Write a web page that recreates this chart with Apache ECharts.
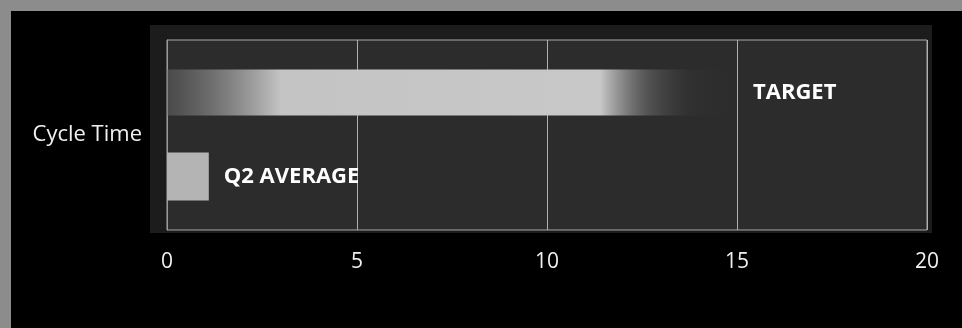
<!DOCTYPE html>
<html>
<head>
<meta charset="utf-8">
<script src="https://cdn.jsdelivr.net/npm/echarts@6/dist/echarts.min.js"></script>
<style>
html,body{margin:0;padding:0;background:#000;}
#chart{width:962px;height:328px;}
</style>
</head>
<body>
<div id="chart"></div>
<script>
var categories = ['Cycle Time'];
var seriesNames = ['TARGET', 'Q2 AVERAGE'];
var target = [15];
var q2Average = [1.1];
var xTicks = [0, 5, 10, 15, 20];

var chart = echarts.init(document.getElementById('chart'), null, {renderer: 'canvas'});
var font = '"Open Sans", "DejaVu Sans", sans-serif';
chart.setOption({
  backgroundColor: '#000',
  animation: false,
  graphic: [
    {type: 'rect', shape: {x: 0, y: 0, width: 962, height: 11}, style: {fill: '#8c8c8c'}, z: -10},
    {type: 'rect', shape: {x: 0, y: 0, width: 11, height: 328}, style: {fill: '#8c8c8c'}, z: -10},
    {type: 'rect', shape: {x: 150, y: 25, width: 782, height: 208}, style: {fill: '#1c1c1c'}, z: -10}
  ],
  grid: {left: 167, right: 35, top: 40, bottom: 98, show: true, backgroundColor: '#2c2c2c', borderColor: '#a8a8a8', borderWidth: 1},
  xAxis: {
    type: 'value', min: xTicks[0], max: xTicks[xTicks.length - 1], interval: 5,
    axisLine: {show: false}, axisTick: {show: false},
    splitLine: {show: true, lineStyle: {color: '#b0b0b0', width: 1}},
    axisLabel: {color: '#f0f0f0', fontSize: 21, fontFamily: font, margin: 22}
  },
  yAxis: {
    type: 'category', data: categories,
    axisLine: {show: true, lineStyle: {color: '#9a9a9a'}}, axisTick: {show: false},
    axisLabel: {color: '#f0f0f0', fontSize: 22, fontFamily: font, margin: 25}
  },
  series: [
    {
      name: seriesNames[0], type: 'bar', data: target, barWidth: 46, barGap: '80%',
      itemStyle: {color: new echarts.graphic.LinearGradient(0, 0, 1, 0, [
        {offset: 0, color: 'rgba(110,110,110,0.45)'},
        {offset: 0.2, color: '#c4c4c4'},
        {offset: 0.76, color: '#c8c8c8'},
        {offset: 0.84, color: 'rgba(120,120,120,0.55)'},
        {offset: 0.92, color: 'rgba(70,70,70,0.15)'},
        {offset: 1, color: 'rgba(50,50,50,0)'}
      ])},
      label: {show: true, position: 'right', distance: 16, formatter: seriesNames[0], color: '#fff', fontSize: 22, fontWeight: 'bold', fontFamily: font}
    },
    {
      name: seriesNames[1], type: 'bar', data: q2Average, barWidth: 48,
      itemStyle: {color: '#b4b4b4'},
      label: {show: true, position: 'right', distance: 15, formatter: seriesNames[1], color: '#fff', fontSize: 22, fontWeight: 'bold', fontFamily: font}
    }
  ]
});
</script>
</body>
</html>
